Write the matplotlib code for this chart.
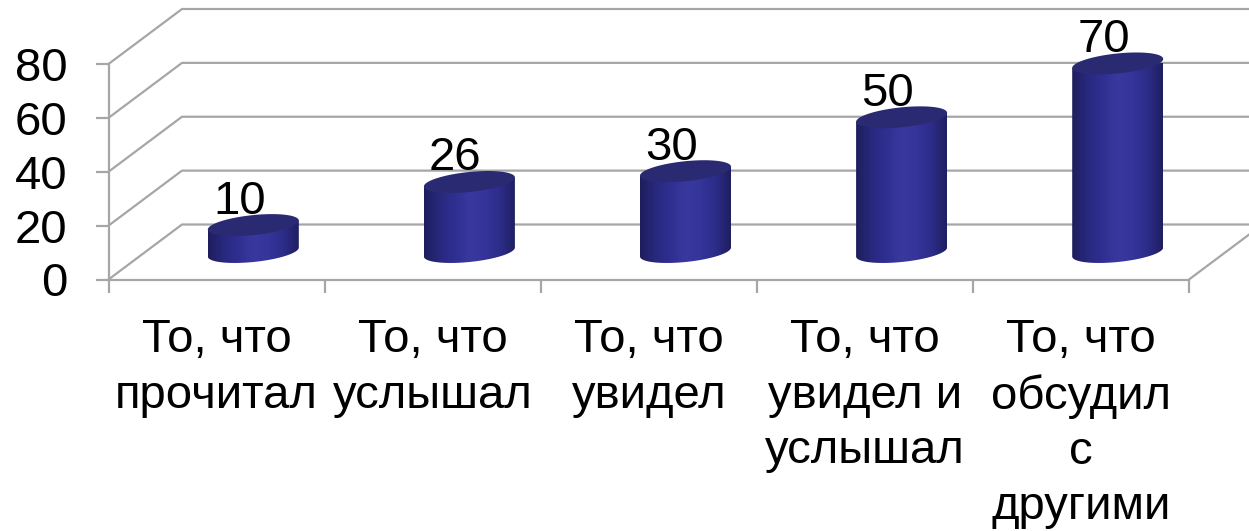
import numpy as np
import matplotlib
matplotlib.use('Agg')
import matplotlib.pyplot as plt
from matplotlib.colors import LinearSegmentedColormap
from matplotlib.patches import Polygon

categories = ['То, что\nпрочитал', 'То, что\nуслышал', 'То, что\nувидел',
              'То, что\nувидел и\nуслышал', 'То, что\nобсудил\nс\nдругими']
values = [10, 26, 30, 50, 70]
y_ticks = [0, 20, 40, 60, 80]

plt.rcParams['font.family'] = ['Liberation Sans', 'DejaVu Sans']

W, H = 1249, 531
fig = plt.figure(figsize=(W / 100, H / 100), dpi=100)
ax = fig.add_axes([108.5 / W, (H - 279.5) / H, 1080.5 / W, 215.5 / H])
ax.set_xlim(-0.5, 4.5)
ax.set_ylim(0, 80)

# pixels to data units
px_x = 5 / 1080.5
px_y = 80 / 215.5
depth_x = 73.5 * px_x
depth_y = 55 * px_y
grey = '#a6a6a6'
line_w = 1.6

# back wall and side lines
for t in y_ticks:
    ax.plot([-0.5, -0.5 + depth_x, 4.5 + depth_x], [t, t + depth_y, t + depth_y],
            color=grey, lw=line_w, clip_on=False, zorder=1)
ax.plot([4.5, 4.5 + depth_x], [0, depth_y], color=grey, lw=line_w, clip_on=False, zorder=1)

# axes
for side in ['top', 'right']:
    ax.spines[side].set_visible(False)
for side in ['left', 'bottom']:
    ax.spines[side].set_color(grey)
    ax.spines[side].set_linewidth(line_w)
    ax.spines[side].set_zorder(2)

ax.set_yticks(y_ticks)
ax.tick_params(axis='y', length=9.5, width=line_w, color=grey, pad=20, labelsize=34)
ax.set_xticks(np.arange(-0.5, 5))
ax.set_xticklabels([])
ax.tick_params(axis='x', which='major', length=9.5, width=line_w, color=grey)
ax.set_xticks(range(5), minor=True)
ax.set_xticklabels(categories, minor=True, fontsize=34, linespacing=1.33)
ax.tick_params(axis='x', which='minor', length=0, pad=28)

# cylinders
body_cmap = LinearSegmentedColormap.from_list(
    'body', ['#1e1e5c', '#28287e', '#2f2f92', '#38389e', '#34349a', '#2c2c88', '#1e1e60'])
gradient = np.linspace(0, 1, 256).reshape(1, -1)
half_w = 45.5 * px_x
tilt = 4.5 * px_y
minor = 10 * px_y
t = np.linspace(0, 2 * np.pi, 181)

for i, val in enumerate(values):
    cx = i + depth_x / 2
    base = depth_y / 2
    top = base + val
    ex = half_w * np.cos(t)
    ey = tilt * np.cos(t) + minor * np.sin(t)

    # side of the cylinder: lower half of the base ellipse, up to the top
    lower = t[90:]
    bx = cx + half_w * np.cos(lower)
    by = base + tilt * np.cos(lower) + minor * np.sin(lower)
    outline = np.column_stack([
        np.r_[cx - half_w, bx, cx + half_w],
        np.r_[top - tilt, by, top + tilt],
    ])
    body = Polygon(outline, closed=True, fc='none', ec='none', zorder=3, clip_on=False)
    ax.add_patch(body)
    im = ax.imshow(gradient, cmap=body_cmap, aspect='auto', zorder=3,
                   extent=(cx - half_w, cx + half_w, base - 2 * minor, top + 2 * minor))
    im.set_clip_box(None)
    im.set_clip_path(body)

    ax.fill(cx + ex, top + ey, color='#2a2a72', lw=0, zorder=4, clip_on=False)
    ax.text(cx - 14 * px_x, top + 11.5 * px_y, str(val), fontsize=34, ha='center',
            va='baseline', color='black', zorder=5)

ax.set_xlim(-0.5, 4.5)
ax.set_ylim(0, 80)

fig.savefig('out.png', dpi=100)
